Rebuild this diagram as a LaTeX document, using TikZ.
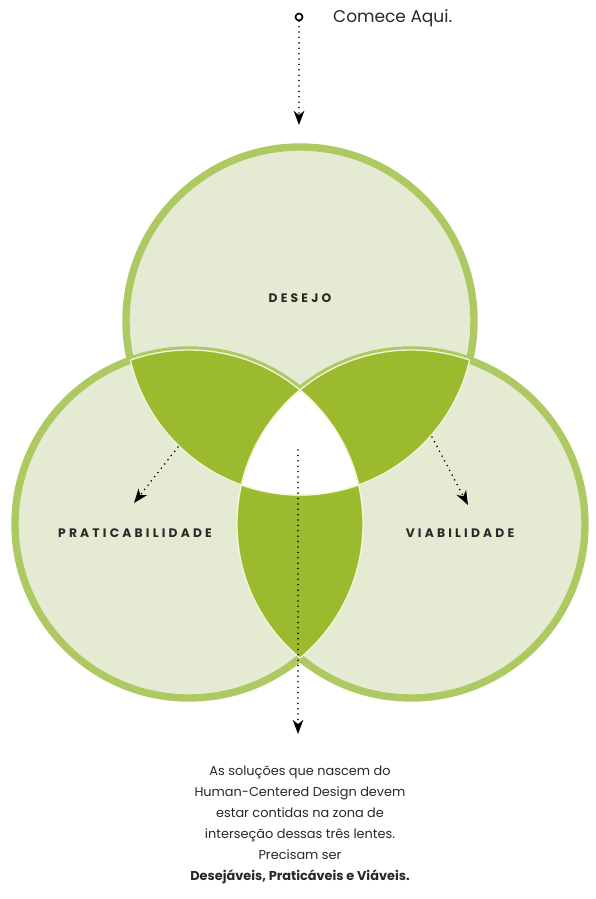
\documentclass[tikz,border=0pt]{standalone}
\usepackage{fontspec}
\setmainfont{Poppins}
\usepackage{xcolor}
\usepackage{tikz}
\usetikzlibrary{arrows.meta,positioning,calc}
\definecolor{lensPale}{RGB}{228,235,210}
\definecolor{lensRim}{RGB}{172,201,98}
\definecolor{lensDark}{RGB}{155,186,46}
\definecolor{lensSeam}{RGB}{241,246,220}
\definecolor{inkGray}{RGB}{40,40,40}

\begin{document}
\begin{tikzpicture}[
    x=0.03cm, y=-0.03cm,
    rim/.style={draw=lensRim, line width=6.3pt},
    seam/.style={draw=lensSeam, line width=1.1pt},
    lenslabel/.style={font=\bfseries\fontsize{10.5}{12}\selectfont\addfontfeatures{LetterSpace=26}, text=inkGray},
    pointer/.style={-{Stealth[length=12pt, width=9pt, inset=3.5pt]}, line width=1.5pt, line cap=round, dash pattern=on 0pt off 4.6pt},
    note/.style={align=center, text=inkGray, font=\fontsize{11}{17.9}\selectfont}
]
    \useasboundingbox (0,0) rectangle (596,899);
    \def\lensR{174}

    % Circle centres
    \coordinate (desejoC) at (300,321);
    \coordinate (pratC) at (189,524);
    \coordinate (viabC) at (411,524);

    % Circles
    \path[fill=lensPale, rim] (desejoC) circle (\lensR);
    \fill[lensPale] (pratC) circle (\lensR);
    \fill[lensPale] (viabC) circle (\lensR);
    \begin{scope}
        \clip (0,0) rectangle (300,899);
        \draw[rim] (pratC) circle (\lensR);
    \end{scope}
    \begin{scope}
        \clip (300,0) rectangle (596,899);
        \draw[rim] (viabC) circle (\lensR);
    \end{scope}

    % Pairwise intersections
    \begin{scope}
        \clip (desejoC) circle (\lensR);
        \fill[lensDark] (pratC) circle (\lensR);
        \fill[lensDark] (viabC) circle (\lensR);
    \end{scope}
    \begin{scope}
        \clip (pratC) circle (\lensR);
        \fill[lensDark] (viabC) circle (\lensR);
    \end{scope}

    % Centre
    \begin{scope}
        \clip (desejoC) circle (\lensR);
        \clip (pratC) circle (\lensR);
        \fill[white] (viabC) circle (\lensR);
    \end{scope}

    % Seams
    \foreach \a/\b in {desejoC/pratC, desejoC/viabC, pratC/desejoC, pratC/viabC, viabC/desejoC, viabC/pratC} {
        \begin{scope}
            \clip (\b) circle (\lensR);
            \draw[seam] (\a) circle (\lensR);
        \end{scope}
    }

    % Labels
    \node[lenslabel] (desejo) at (300,298) {DESEJO};
    \node[lenslabel] (prat) at (135,533) {PRATICABILIDADE};
    \node[lenslabel] (viab) at (460,533) {VIABILIDADE};

    % Start
    \node[draw=black, circle, line width=1.4pt, inner sep=0pt, minimum size=0.21cm] (start) at (299,17) {};
    \node[anchor=west, text=inkGray, font=\fontsize{14.5}{16}\selectfont] (comece) at (329,18) {Comece Aqui.};
    \coordinate (startTo) at (299,125);
    \draw[pointer] (start.south) -- (startTo);

    % Pointers
    \coordinate (pratFrom) at (178,447);
    \coordinate (pratTo) at (134,503);
    \draw[pointer] (pratFrom) -- (pratTo);
    \coordinate (viabFrom) at (432,437);
    \coordinate (viabTo) at (468,505);
    \draw[pointer] (viabFrom) -- (viabTo);
    \coordinate (coreFrom) at (298,450);
    \coordinate (coreTo) at (298,734);
    \draw[pointer] (coreFrom) -- (coreTo);

    % Note
    \node[note, anchor=north] (note) at (300,762) {As soluções que nascem do\\Human-Centered Design devem\\estar contidas na zona de\\interseção dessas três lentes.\\Precisam ser\\\textbf{Desejáveis, Praticáveis e Viáveis.}};
\end{tikzpicture}
\end{document}
